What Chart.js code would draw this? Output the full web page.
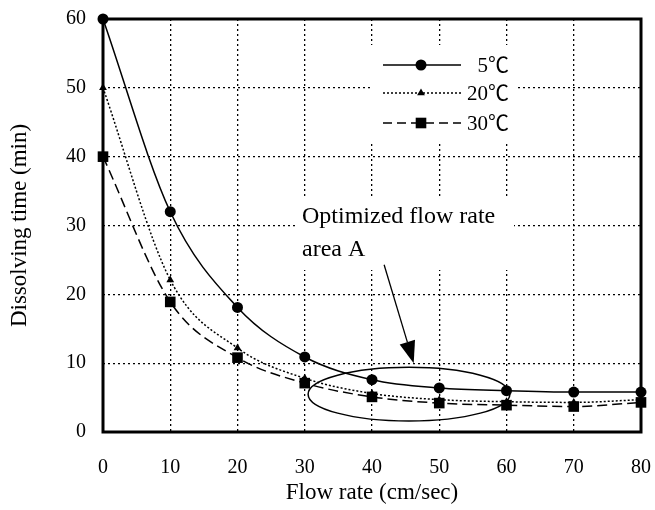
<!DOCTYPE html>
<html>
<head>
<meta charset="utf-8">
<script src="https://cdn.jsdelivr.net/npm/chart.js@4.4.1/dist/chart.umd.min.js"></script>
<style>
  html, body { margin: 0; padding: 0; background: #fff; }
  #wrap { width: 655px; height: 510px; position: relative; }
</style>
</head>
<body>
<div id="wrap"><canvas id="c" width="655" height="510"></canvas></div>
<script>
// ---- data ----
const flowRates = [0, 10, 20, 30, 40, 50, 60, 70, 80];
const time5C  = [60, 32, 18.1, 10.9, 7.6, 6.4, 6.0, 5.8, 5.8];
const time20C = [50, 22.1, 12.2, 7.8, 5.6, 4.7, 4.4, 4.3, 4.7];
const time30C = [40, 18.9, 10.8, 7.1, 5.1, 4.2, 3.9, 3.7, 4.3];
const seriesLabels = ['5\u2103', '20\u2103', '30\u2103'];
const xTitle = 'Flow rate (cm/sec)';
const yTitle = 'Dissolving time (min)';
const noteLines = ['Optimized flow rate', 'area A'];

const SERIF = '"Liberation Serif", "Times New Roman", "Noto Sans CJK JP", serif';

function pts(xs, ys) { return xs.map((x, i) => ({x: x, y: ys[i]})); }

const annot = {
  id: 'annot',
  beforeDatasetsDraw(chart) {
    const ctx = chart.ctx, a = chart.chartArea;
    const sx = chart.scales.x, sy = chart.scales.y;
    ctx.save();
    // white areas behind legend and note (grid hidden there)
    ctx.fillStyle = '#fff';
    ctx.fillRect(371, 45, 145, 97);
    ctx.fillRect(298, 198, 216, 72);
    // frame
    ctx.strokeStyle = '#000';
    ctx.lineWidth = 3;
    ctx.setLineDash([]);
    ctx.strokeRect(a.left, a.top, a.right - a.left, a.bottom - a.top);

    // ellipse (optimized area)
    const cx = sx.getPixelForValue(45.5), cy = sy.getPixelForValue(5.5);
    const rx = sx.getPixelForValue(60.5) - cx;
    const ry = sy.getPixelForValue(5.5) - sy.getPixelForValue(9.4);
    ctx.lineWidth = 1.5;
    ctx.beginPath();
    ctx.ellipse(cx, cy, rx, ry, 0, 0, Math.PI * 2);
    ctx.stroke();

    // arrow
    const x1 = sx.getPixelForValue(41.8), y1 = sy.getPixelForValue(24.3);
    const x2 = sx.getPixelForValue(46.2), y2 = sy.getPixelForValue(10.0);
    const ang = Math.atan2(y2 - y1, x2 - x1);
    const hl = 22, hw = 8;
    const bx = x2 - hl * Math.cos(ang), by = y2 - hl * Math.sin(ang);
    ctx.lineWidth = 1.3;
    ctx.beginPath();
    ctx.moveTo(x1, y1);
    ctx.lineTo(bx, by);
    ctx.stroke();
    ctx.fillStyle = '#000';
    ctx.beginPath();
    ctx.moveTo(x2, y2);
    ctx.lineTo(bx + hw * Math.sin(ang), by - hw * Math.cos(ang));
    ctx.lineTo(bx - hw * Math.sin(ang), by + hw * Math.cos(ang));
    ctx.closePath();
    ctx.fill();

    // note text
    ctx.font = '24px ' + SERIF;
    ctx.textAlign = 'left';
    ctx.textBaseline = 'middle';
    ctx.fillText(noteLines[0], 302, 217);
    ctx.fillText(noteLines[1], 302, 250);

    // legend
    const rows = [
      {y: 65, dash: [], style: 'circle', r: 5.5},
      {y: 93, dash: [2, 2], style: 'triangle', r: 4.5},
      {y: 123, dash: [9, 5], style: 'rect', r: 7.5}
    ];
    ctx.font = '21px ' + SERIF;
    ctx.textAlign = 'right';
    rows.forEach((row, i) => {
      ctx.lineWidth = 1.5;
      ctx.setLineDash(row.dash);
      ctx.beginPath();
      ctx.moveTo(383, row.y);
      ctx.lineTo(461, row.y);
      ctx.stroke();
      ctx.setLineDash([]);
      Chart.helpers.drawPoint(ctx, {pointStyle: row.style, radius: row.r, borderWidth: 0}, 421, row.y);
      ctx.fillText(seriesLabels[i], 509, row.y + 1);
    });
    ctx.restore();
  }
};

const common = {
  borderColor: '#000',
  backgroundColor: '#000',
  pointBackgroundColor: '#000',
  pointBorderColor: '#000',
  pointBorderWidth: 0,
  borderWidth: 1.5,
  fill: false,
  cubicInterpolationMode: 'monotone',
  clip: false
};

new Chart(document.getElementById('c'), {
  type: 'line',
  data: {
    datasets: [
      Object.assign({}, common, {label: seriesLabels[0], data: pts(flowRates, time5C), pointStyle: 'circle', pointRadius: 5.5, order: 1}),
      Object.assign({}, common, {label: seriesLabels[1], data: pts(flowRates, time20C), pointStyle: 'triangle', pointRadius: 4.5, borderDash: [2, 2], order: 2}),
      Object.assign({}, common, {label: seriesLabels[2], data: pts(flowRates, time30C), pointStyle: 'rect', pointRadius: 7.5, borderDash: [10, 5], order: 0})
    ]
  },
  options: {
    responsive: false,
    animation: false,
    events: [],
    layout: { padding: { left: 0, right: 14, top: 19, bottom: 0 } },
    plugins: { legend: { display: false }, tooltip: { enabled: false } },
    scales: {
      x: {
        type: 'linear', min: 0, max: 80,
        afterFit(s) { s.height = 78; s.paddingLeft = 0; s.paddingRight = 0; },
        ticks: { stepSize: 10, color: '#000', padding: 24, font: { family: SERIF, size: 20 } },
        grid: { color: '#000', lineWidth: 1.3, drawTicks: false },
        border: { display: false, dash: [2, 3] },
        title: { display: true, text: xTitle, color: '#000', font: { family: SERIF, size: 23 }, padding: { top: 0, bottom: 3 } }
      },
      y: {
        type: 'linear', min: 0, max: 60,
        afterFit(s) { s.width = 103; s.paddingTop = 0; s.paddingBottom = 0; },
        ticks: { stepSize: 10, color: '#000', padding: 17, font: { family: SERIF, size: 20 } },
        grid: { color: '#000', lineWidth: 1.3, drawTicks: false },
        border: { display: false, dash: [2, 3] },
        title: { display: true, text: yTitle, color: '#000', font: { family: SERIF, size: 23 }, padding: { top: 6, bottom: 0 } }
      }
    }
  },
  plugins: [annot]
});
</script>
</body>
</html>
